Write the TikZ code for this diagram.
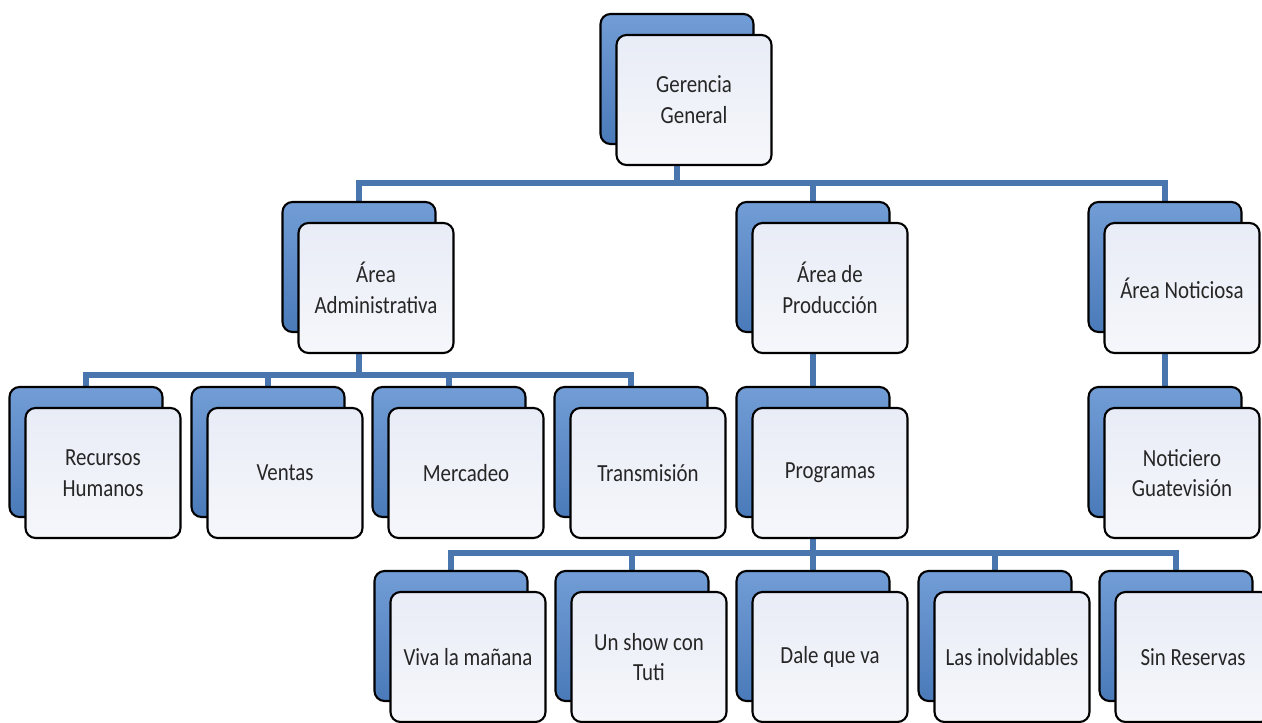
\documentclass[tikz,border=0pt]{standalone}
\usepackage{fontspec}
\setmainfont{Carlito}[FakeStretch=0.85]
\usetikzlibrary{
    positioning,
    backgrounds
}
\definecolor{linkblue}{HTML}{4A76B0}
\definecolor{backtop}{HTML}{729DD6}
\definecolor{backbot}{HTML}{4A7AB9}
\definecolor{facetop}{HTML}{E8ECF6}
\definecolor{facebot}{HTML}{F6F7FB}
\definecolor{labelgray}{HTML}{262626}

% one unit: blue card behind, pale card in front
\newcommand{\orgunit}[4]{%
    \node[backbox] (#1-b) at (#2,#3) {};
    \node[facebox] (#1) at (#2+17,#3+21) {#4};
}

\begin{document}
\begin{tikzpicture}[x=0.02cm, y=-0.02cm,
    backbox/.style={draw=black, line width=1.2pt, rounded corners=0.2cm,
        top color=backtop, bottom color=backbot,
        minimum width=3.06cm, minimum height=2.6cm, inner sep=0pt},
    facebox/.style={draw=black, line width=1.2pt, rounded corners=0.2cm,
        top color=facetop, bottom color=facebot, text=labelgray,
        minimum width=3.1cm, minimum height=2.6cm, inner sep=2pt,
        align=center, font=\fontsize{14}{17.5}\selectfont},
    conn/.style={draw=linkblue, line width=3.4pt}]
    \useasboundingbox (0,0) rectangle (1262,723);

    % top
    \orgunit{gg}{677}{79}{Gerencia\\General}
    % areas
    \orgunit{adm}{359}{267}{Área\\Administrativa}
    \orgunit{prod}{813}{267}{Área de\\Producción}
    \orgunit{noti}{1165}{267}{Área Noticiosa}
    % third level
    \orgunit{rrhh}{86}{452}{Recursos\\Humanos}
    \orgunit{ventas}{268}{452}{Ventas}
    \orgunit{merc}{449}{452}{Mercadeo}
    \orgunit{trans}{631}{452}{Transmisión}
    \orgunit{prog}{813}{452}{Programas}
    \orgunit{notic}{1165}{452}{Noticiero\\Guatevisión}
    % programs
    \orgunit{viva}{451}{636}{Viva la mañana}
    \orgunit{show}{632}{636}{Un show con\\Tuti}
    \orgunit{dale}{813}{636}{Dale que va}
    \orgunit{inolv}{995}{636}{Las inolvidables}
    \orgunit{sinres}{1176}{636}{Sin Reservas}

    % connectors behind the cards
    \begin{scope}[on background layer]
        \coordinate (bus1) at (0,183);
        \coordinate (bus2) at (0,375);
        \coordinate (bus3) at (0,553);
        \foreach \c in {adm,prod,noti}
            \draw[conn] (gg-b.south) |- (\c-b.north |- bus1) -- (\c-b.north);
        \foreach \c in {rrhh,ventas,merc,trans}
            \draw[conn] (adm-b.south) |- (\c-b.north |- bus2) -- (\c-b.north);
        \draw[conn] (prod-b.south) -- (prog-b.north);
        \draw[conn] (noti-b.south) -- (notic-b.north);
        \foreach \c in {viva,show,dale,inolv,sinres}
            \draw[conn] (prog-b.south) |- (\c-b.north |- bus3) -- (\c-b.north);
    \end{scope}
\end{tikzpicture}
\end{document}
